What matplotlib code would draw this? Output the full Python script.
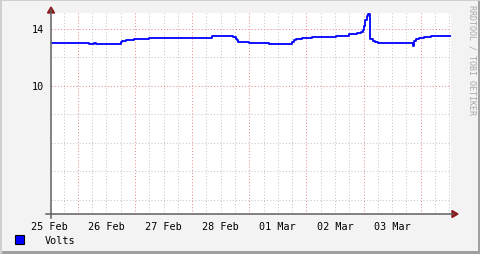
import numpy as np
import matplotlib
matplotlib.use("Agg")
import matplotlib.pyplot as plt
from matplotlib.patches import Rectangle, Polygon

# days since 25 Feb 00:00, level starts (step plot)
times = [0.53, 1.19, 1.29, 1.31, 1.75, 1.78, 1.85, 1.99, 2.24, 3.35, 3.72, 3.76,
         3.78, 3.81, 4.00, 4.35, 4.75, 4.79, 4.82, 4.93, 5.10, 5.52, 5.75, 5.89,
         5.96, 5.99, 6.01, 6.03, 6.06, 6.08, 6.105, 6.17, 6.20, 6.25, 6.41, 6.86,
         6.88, 6.92, 6.97, 7.06, 7.18, 7.32, 7.53]
volts = [13.00, 12.93, 12.98, 12.93, 13.07, 13.14, 13.21, 13.28, 13.33, 13.49,
         13.42, 13.30, 13.18, 13.07, 13.00, 12.93, 13.05, 13.20, 13.30, 13.37,
         13.44, 13.51, 13.60, 13.70, 13.79, 13.93, 14.16, 14.63, 14.86, 15.03,
         13.25, 13.12, 13.07, 13.02, 13.00, 12.81, 13.11, 13.28, 13.37, 13.44,
         13.46, 13.49, 13.49]

day_labels = ["25 Feb", "26 Feb", "27 Feb", "28 Feb", "01 Mar", "02 Mar", "03 Mar"]
y_major = [10, 14]
y_minor = [2, 4, 6, 8, 12]

BG = "#F3F3F3"
MONO = "DejaVu Sans Mono"

fig = plt.figure(figsize=(4.81, 2.55), dpi=100, facecolor=BG)
W, H = 481, 255
ax = fig.add_axes([51 / W, 1 - 215 / H, 400 / W, 201 / H])
ax.set_facecolor("white")
x0, x1 = 0.53, 7.53
ax.set_xlim(x0, x1)
ax.set_ylim(1.0, 15.1)
for s in ax.spines.values():
    s.set_visible(False)
ax.set_xticks([])
ax.set_yticks([])

dots = (0, (1, 2))
# minor grid
for d in np.arange(0.75, 7.51, 0.25):
    if abs(d - round(d)) > 0.01:
        ax.axvline(d, color="#C8C8C8", lw=0.75, ls=dots, zorder=1)
for v in y_minor:
    ax.axhline(v, color="#C8C8C8", lw=0.75, ls=dots, zorder=1)
# major grid
for d in range(1, 8):
    ax.axvline(d, color="#E89090", lw=0.75, ls=dots, zorder=1.5)
for v in y_major:
    ax.axhline(v, color="#E89090", lw=0.75, ls=dots, zorder=1.5)

ax.step(times, volts, where="post", color="#0000FF", lw=1.3, zorder=3)

# y labels
for v in y_major:
    ax.text(-0.018, v, str(v), transform=ax.get_yaxis_transform(),
            ha="right", va="center", fontsize=7.3, family=MONO, color="black")
# x labels at noon
for i, lab in enumerate(day_labels):
    ax.text(i + 0.5, -0.035, lab, transform=ax.get_xaxis_transform(),
            ha="center", va="top", fontsize=7.3, family=MONO, color="black",
            clip_on=False)

# axes lines and arrows (figure pixels)
def fx(px):
    return px / W

def fy(py):
    return 1 - py / H

fig.add_artist(plt.Line2D([fx(46), fx(453)], [fy(215), fy(215)], color="#606060", lw=1.1))
fig.add_artist(plt.Line2D([fx(51), fx(51)], [fy(219), fy(11)], color="#606060", lw=1.1))
fig.add_artist(Polygon([[fx(452), fy(211.5)], [fx(458), fy(215)], [fx(452), fy(218.5)]],
                       closed=True, color="#8B1A1A", transform=fig.transFigure))
fig.add_artist(Polygon([[fx(47.5), fy(14)], [fx(51), fy(8)], [fx(54.5), fy(14)]],
                       closed=True, color="#8B1A1A", transform=fig.transFigure))

# legend
fig.add_artist(Rectangle((fx(15), fy(245)), 9 / W, 9 / H, facecolor="#0000FF",
                         edgecolor="black", lw=0.8, transform=fig.transFigure))
fig.text(fx(45), fy(241), "Volts", ha="left", va="center", fontsize=7.3,
         family=MONO, color="black")

# watermark
fig.text(fx(472), fy(5), "RRDTOOL / TOBI OETIKER", rotation=270, ha="center",
         va="top", fontsize=6.0, family=MONO, color="#A8A8A8")

# frame shading
fig.add_artist(Rectangle((0, 0), 1, 3 / H, facecolor="#A0A0A0", edgecolor="none",
                         transform=fig.transFigure))
fig.add_artist(Rectangle((1 - 3 / W, 0), 3 / W, 1, facecolor="#A0A0A0", edgecolor="none",
                         transform=fig.transFigure))
fig.add_artist(Rectangle((0, 1 - 2 / H), 1, 2 / H, facecolor="#CFCFCF", edgecolor="none",
                         transform=fig.transFigure))
fig.add_artist(Rectangle((0, 0), 2 / W, 1, facecolor="#CFCFCF", edgecolor="none",
                         transform=fig.transFigure))

fig.savefig("out.png", dpi=100, facecolor=BG)
